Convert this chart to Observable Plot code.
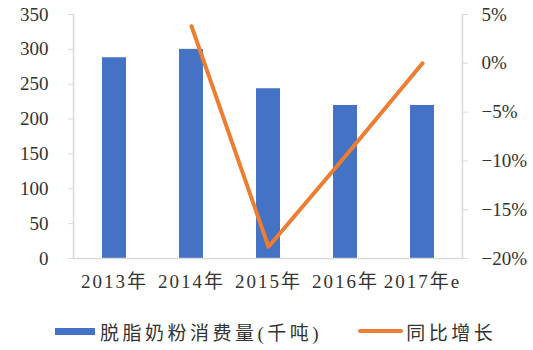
<!DOCTYPE html>
<html>
<head>
<meta charset="utf-8">
<script src="https://cdn.jsdelivr.net/npm/d3@7"></script>
<script src="https://cdn.jsdelivr.net/npm/@observablehq/plot@0.6"></script>
<style>
  html, body { margin: 0; padding: 0; background: #fff; }
  #chart { width: 533px; }
  .legend { display: flex; align-items: center; height: 50px; margin-top: 6px; font-family: "Liberation Serif", "Noto Sans CJK SC", serif; font-size: 19px; letter-spacing: 3.5px; color: #333; }
  .sw { display: inline-block; }
</style>
</head>
<body>
<div id="chart"></div>
<script>
const years = ["2013年", "2014年", "2015年", "2016年", "2017年e"];
const consumption = [288, 300, 243.5, 219.5, 219.5];
const growthYears = ["2014年", "2015年", "2016年", "2017年e"];
const growth = [3.8, -18.8, -9.5, 0];
const leftTicks = [0, 50, 100, 150, 200, 250, 300, 350];
const rightTicks = [5, 0, -5, -10, -15, -20];
const seriesNames = ["脱脂奶粉消费量(千吨)", "同比增长"];

const leftMax = 350, rMin = -20, rMax = 5;
const toLeft = g => (g - rMin) / (rMax - rMin) * leftMax;

const bars = years.map((y, i) => ({year: y, value: consumption[i]}));
const line = growthYears.map((y, i) => ({year: y, g: growth[i], v: toLeft(growth[i])}));

const font = "'Liberation Serif', 'Noto Sans CJK SC', serif";
const plot = Plot.plot({
  width: 533,
  height: 300,
  marginLeft: 73,
  marginRight: 71,
  marginTop: 14,
  marginBottom: 42,
  style: {fontFamily: font, fontSize: "19px", color: "#333", background: "#fff"},
  x: {type: "band", domain: years, paddingInner: 0.69, paddingOuter: 0.345, label: null},
  y: {domain: [0, leftMax], label: null},
  marks: [
    Plot.barY(bars, {x: "year", y: "value", fill: "#4472C4"}),
    Plot.frame({anchor: "left", stroke: "#d9d9d9", strokeWidth: 1.5}),
    Plot.frame({anchor: "right", stroke: "#d9d9d9", strokeWidth: 1.5}),
    Plot.ruleY([0], {stroke: "#d9d9d9", strokeWidth: 1.5}),
    Plot.axisY(leftTicks, {anchor: "left", tickSize: 5, tickPadding: 20, stroke: "#d9d9d9", label: null, fontSize: 19}),
    Plot.axisY(rightTicks.map(toLeft), {anchor: "right", tickSize: 5, tickPadding: 14, stroke: "#d9d9d9", label: null, fontSize: 19,
      tickFormat: v => { const g = Math.round(v / leftMax * (rMax - rMin) + rMin); return (g < 0 ? "\u2212" + (-g) : g) + "%"; }}),
    Plot.axisX({tickSize: 0, tickPadding: 16, label: null, fontSize: 19}),
    Plot.line(line, {x: "year", y: "v", stroke: "#ED7D31", strokeWidth: 4, strokeLinecap: "round", strokeLinejoin: "round"})
  ]
});
document.getElementById("chart").appendChild(plot);
plot.querySelectorAll("[aria-label='x-axis tick label'] text").forEach(t => t.setAttribute("letter-spacing", "2"));

const legend = document.createElement("div");
legend.className = "legend";
legend.innerHTML =
  `<span class="sw" style="margin-left:55px;width:40px;height:7px;background:#4472C4"></span>` +
  `<span style="margin-left:5px">${seriesNames[0]}</span>` +
  `<span class="sw" style="margin-left:36px;width:45px;height:4px;border-radius:2px;background:#ED7D31"></span>` +
  `<span style="margin-left:3px">${seriesNames[1]}</span>`;
document.getElementById("chart").appendChild(legend);
</script>
</body>
</html>
